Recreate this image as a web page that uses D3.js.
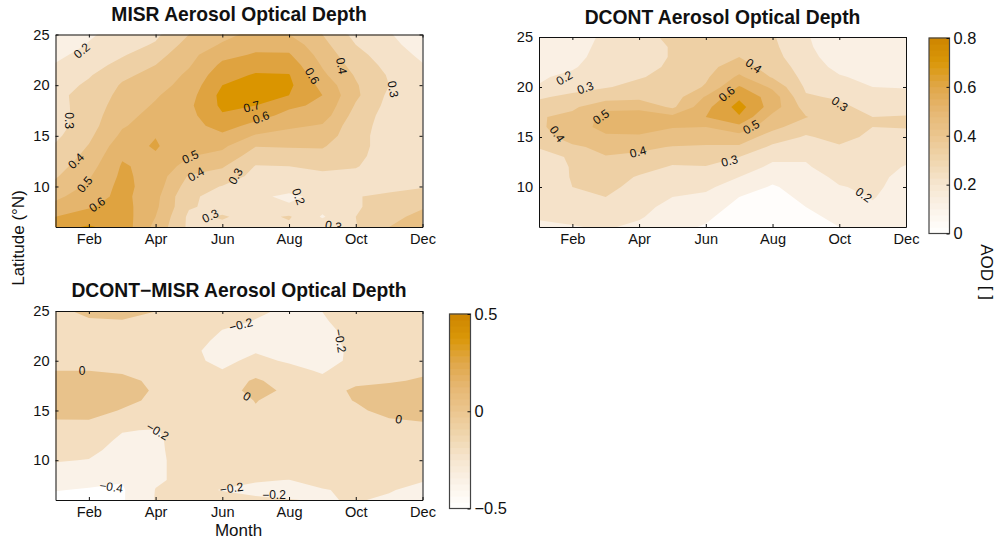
<!DOCTYPE html>
<html>
<head>
<meta charset="utf-8">
<script src="https://cdn.jsdelivr.net/npm/d3@7"></script>
<style>
  html, body { margin: 0; padding: 0; background: #fff; }
  svg { display: block; }
  text { font-family: "Liberation Sans", Arial, sans-serif; fill: #111; }
  .domain, .tick line { stroke: #111; }
  .title { font-weight: bold; font-size: 19.3px; text-anchor: middle; }
  .axis text { font-size: 14.6px; font-family: "Liberation Sans", Arial, sans-serif; }
  .bar-axis text { font-size: 16.4px; }
  .axis-title { font-size: 17px; text-anchor: middle; }
  .clabel { font-size: 12px; text-anchor: middle; dominant-baseline: central; }
</style>
</head>
<body>
<div id="chart"></div>
<script>
const lats = [25, 24, 23, 22, 21, 20, 19, 18, 17, 16, 15, 14, 13, 12, 11, 10, 9, 8, 7, 6];
const monthNames = ["Jan", "Feb", "Mar", "Apr", "May", "Jun", "Jul", "Aug", "Sep", "Oct", "Nov", "Dec"];
const monthTicks = [2, 4, 6, 8, 10, 12];
const latTicks = [10, 15, 20, 25];

// one row per month (Jan..Dec), values run from 25N down to 6N
const misrAod = [
  [.13,.15,.18,.205,.22,.25,.28,.27,.26,.26,.28,.31,.33,.36,.39,.43,.48,.53,.60,.67],
  [.19,.205,.23,.26,.29,.32,.33,.34,.35,.36,.38,.405,.43,.46,.49,.52,.55,.59,.65,.71],
  [.23,.26,.29,.33,.38,.41,.43,.45,.47,.49,.52,.56,.59,.61,.62,.63,.63,.64,.65,.66],
  [.28,.31,.36,.40,.43,.46,.49,.51,.53,.55,.597,.61,.59,.57,.56,.55,.53,.52,.50,.47],
  [.40,.44,.47,.49,.52,.54,.56,.58,.57,.56,.55,.53,.505,.46,.39,.35,.31,.31,.28,.28],
  [.47,.51,.57,.62,.66,.70,.73,.72,.69,.64,.58,.52,.47,.41,.36,.295,.28,.27,.308,.28],
  [.53,.57,.61,.66,.71,.74,.74,.70,.64,.57,.49,.405,.35,.295,.27,.26,.215,.23,.27,.26],
  [.50,.56,.61,.66,.705,.72,.70,.62,.57,.52,.46,.41,.35,.30,.27,.23,.185,.21,.31,.28],
  [.40,.43,.46,.49,.52,.57,.60,.58,.55,.49,.46,.41,.37,.32,.28,.25,.22,.23,.19,.27],
  [.27,.30,.33,.36,.39,.41,.42,.39,.36,.34,.33,.33,.32,.305,.28,.27,.295,.29,.30,.295],
  [.21,.23,.25,.27,.29,.30,.28,.27,.26,.26,.26,.26,.26,.26,.26,.27,.32,.34,.37,.40],
  [.12,.15,.18,.205,.23,.25,.25,.25,.25,.25,.25,.25,.25,.25,.26,.295,.33,.39,.43,.47]
];
const dcontAod = [
  [.13,.14,.15,.17,.19,.205,.29,.33,.39,.38,.35,.305,.27,.26,.25,.24,.23,.22,.205,.19],
  [.15,.16,.17,.19,.22,.27,.32,.38,.43,.47,.45,.38,.31,.305,.305,.30,.27,.24,.22,.195],
  [.22,.23,.24,.25,.27,.295,.35,.48,.53,.52,.49,.43,.395,.37,.35,.325,.30,.265,.24,.21],
  [.27,.27,.27,.28,.295,.32,.37,.48,.54,.53,.49,.42,.38,.34,.29,.27,.25,.23,.21,.18],
  [.32,.305,.305,.31,.32,.33,.35,.38,.53,.505,.46,.395,.34,.29,.26,.23,.20,.17,.15,.13],
  [.34,.35,.36,.37,.385,.41,.51,.57,.60,.50,.46,.385,.34,.295,.26,.22,.18,.15,.12,.09],
  [.35,.37,.40,.45,.52,.61,.68,.74,.69,.57,.46,.385,.30,.25,.20,.15,.10,.07,.04,.02],
  [.31,.32,.33,.35,.39,.48,.555,.55,.47,.43,.35,.28,.22,.18,.13,.09,.07,.05,.03,.02],
  [.21,.22,.24,.26,.27,.285,.31,.36,.405,.34,.29,.26,.21,.19,.16,.14,.12,.10,.08,.06],
  [.13,.13,.14,.17,.21,.25,.29,.32,.34,.36,.33,.29,.26,.245,.22,.195,.17,.14,.12,.10],
  [.11,.11,.12,.14,.17,.20,.24,.27,.30,.30,.28,.26,.24,.23,.22,.215,.205,.19,.18,.17],
  [.11,.105,.105,.12,.15,.195,.23,.27,.305,.305,.27,.25,.22,.195,.18,.17,.16,.15,.15,.14]
];
const diffAod = [
  [-.05,-.07,-.08,-.08,-.08,-.06,0,.07,.08,.07,.05,-.005,-.07,-.11,-.15,-.19,-.24,-.30,-.39,-.47],
  [.05,-.02,-.05,-.06,-.06,-.04,0,.08,.10,.09,.06,-.005,-.08,-.12,-.16,-.205,-.26,-.33,-.42,-.50],
  [.08,-.01,-.05,-.06,-.06,-.05,-.02,.04,.06,.04,-.01,-.08,-.19,-.23,-.26,-.29,-.33,-.39,-.42,-.42],
  [.002,-.03,-.06,-.07,-.08,-.07,-.06,-.03,-.015,-.03,-.06,-.12,-.21,-.22,-.22,-.22,-.22,-.22,-.195,-.19],
  [-.04,-.07,-.10,-.13,-.185,-.17,-.15,-.12,-.10,-.09,-.09,-.10,-.12,-.14,-.15,-.16,-.16,-.16,-.17,-.15],
  [-.09,-.16,-.205,-.24,-.225,-.23,-.195,-.12,-.07,-.07,-.09,-.11,-.13,-.14,-.15,-.15,-.16,-.17,-.205,-.15],
  [-.18,-.205,-.24,-.26,-.21,-.17,-.08,.03,.05,.005,-.01,-.07,-.10,-.12,-.14,-.15,-.16,-.19,-.23,-.18],
  [-.22,-.24,-.27,-.28,-.26,-.215,-.16,-.10,-.03,-.05,-.07,-.09,-.11,-.12,-.13,-.14,-.15,-.202,-.25,-.195],
  [-.198,-.22,-.29,-.30,-.29,-.27,-.215,-.17,-.10,-.08,-.08,-.09,-.10,-.11,-.12,-.13,-.13,-.15,-.21,-.21],
  [-.10,-.115,-.09,-.11,-.15,-.155,-.12,-.05,.04,.01,-.04,-.07,-.09,-.10,-.11,-.12,-.13,-.15,-.17,-.19],
  [-.09,-.09,-.08,-.07,-.06,-.06,-.05,-.02,.06,.09,.07,-.02,-.07,-.09,-.10,-.11,-.12,-.14,-.19,-.22],
  [-.08,-.08,-.07,-.06,-.06,-.05,-.03,.02,.08,.10,.09,.01,-.06,-.08,-.09,-.10,-.12,-.19,-.24,-.28]
];

const aodLevels = [.1, .2, .3, .4, .5, .6, .7];
const aodFills = ["#fffdfb", "#faf0e4", "#f5e2c9", "#eed0a5", "#e9c084", "#e5b56d", "#dfa340", "#da9500"];
const diffLevels = [-.4, -.2, 0, .2];
const diffFills = ["#ffffff", "#faf2e8", "#f4dec0", "#e8c28b", "#dfa340"];

// colour bar stops
const aodBarStops = [0, .1, .2, .3, .4, .5, .6, .7, .8];
const barColors = ["#ffffff", "#fbf3e9", "#f6e6d0", "#f0d6ae", "#ebc68f", "#e6b772", "#e0a749", "#da9708", "#cd8500"];
const diffBarStops = barColors.map((c, i) => -.5 + i / 8);

const misrLabels = [
  ["0.2", 1.79, 23.4, -40], ["0.3", 1.39, 16.5, 90], ["0.4", 1.62, 12.5, -45], ["0.5", 1.88, 10.2, -50],
  ["0.6", 2.25, 8.2, -35], ["0.3", 5.64, 7.07, -25], ["0.4", 5.21, 11.2, -30], ["0.5", 5.04, 12.9, -25],
  ["0.3", 6.40, 11.0, -60], ["0.2", 8.28, 9.0, 70], ["0.7", 6.88, 17.86, -15], ["0.6", 7.16, 16.8, -20],
  ["0.6", 8.69, 20.9, 60], ["0.4", 9.57, 21.9, 80], ["0.3", 11.11, 19.6, 80], ["0.3", 9.33, 6.1, 10]
];
const dcontLabels = [
  ["0.2", 1.76, 20.9, -30], ["0.3", 2.39, 19.9, -20], ["0.4", 1.54, 15.3, 55], ["0.5", 2.86, 17.0, -35],
  ["0.4", 3.97, 13.5, -15], ["0.3", 6.71, 12.6, -15], ["0.6", 6.63, 19.3, -40], ["0.4", 7.43, 22.1, 35],
  ["0.5", 7.36, 16.0, -30], ["0.3", 10.01, 18.3, 35], ["0.2", 10.73, 9.2, 35]
];
const diffLabels = [
  ["0", 1.8, 19.0, 0], ["\u22120.2", 4.06, 12.9, 30], ["\u22120.2", 6.56, 23.6, -15], ["\u22120.2", 9.53, 22.0, 80],
  ["0", 6.74, 16.4, 30], ["0", 11.29, 14.1, 10], ["\u22120.4", 2.67, 7.3, 8], ["\u22120.2", 6.28, 7.17, -8],
  ["\u22120.2", 7.55, 6.53, 0]
];

const svg = d3.select("#chart").append("svg").attr("width", 995).attr("height", 541);

function drawPanel(opts) {
  const x = d3.scaleLinear().domain([1, 12]).range([opts.left, opts.right]);
  const y = d3.scaleLinear().domain([6, 25]).range([opts.bottom, opts.top]);
  const color = d3.scaleThreshold().domain(opts.levels).range(opts.fills);

  // d3.contours wants a flat grid, row by row
  const grid = [];
  lats.forEach((lat, j) => opts.values.forEach(col => grid.push(col[j])));

  const contours = d3.contours().size([monthNames.length, lats.length]).thresholds(opts.levels)(grid);
  const gridPath = d3.geoPath(d3.geoTransform({
    point(px, py) { this.stream.point(x(px + 0.5), y(lats[0] - (py - 0.5))); }
  }));

  const g = svg.append("g");
  g.append("clipPath").attr("id", opts.id + "-clip").append("rect")
    .attr("x", opts.left).attr("y", opts.top)
    .attr("width", opts.right - opts.left).attr("height", opts.bottom - opts.top);

  const body = g.append("g").attr("clip-path", `url(#${opts.id}-clip)`);
  body.append("rect")
    .attr("x", opts.left).attr("y", opts.top)
    .attr("width", opts.right - opts.left).attr("height", opts.bottom - opts.top)
    .attr("fill", opts.fills[0]);
  body.selectAll("path").data(contours).enter().append("path")
    .attr("d", gridPath)
    .attr("fill", d => color(d.value));

  body.selectAll("text").data(opts.labels).enter().append("text")
    .attr("class", "clabel")
    .attr("transform", d => `translate(${x(d[1])},${y(d[2])}) rotate(${d[3]})`)
    .text(d => d[0]);

  const monthFormat = d => monthNames[d - 1];
  g.append("g").attr("class", "axis")
    .attr("transform", `translate(0,${opts.bottom})`)
    .call(d3.axisBottom(x).tickValues(monthTicks).tickFormat(monthFormat).tickSizeInner(-3).tickSizeOuter(0).tickPadding(7));
  g.append("g").attr("class", "axis")
    .attr("transform", `translate(0,${opts.top})`)
    .call(d3.axisTop(x).tickValues(monthTicks).tickFormat("").tickSizeInner(-3).tickSizeOuter(0));
  g.append("g").attr("class", "axis")
    .attr("transform", `translate(${opts.left},0)`)
    .call(d3.axisLeft(y).tickValues(latTicks).tickFormat(d3.format("d")).tickSizeInner(-3).tickSizeOuter(0).tickPadding(6));
  g.append("g").attr("class", "axis")
    .attr("transform", `translate(${opts.right},0)`)
    .call(d3.axisRight(y).tickValues(latTicks).tickFormat("").tickSizeInner(-3).tickSizeOuter(0));

  g.append("text").attr("class", "title")
    .attr("x", (opts.left + opts.right) / 2).attr("y", opts.titleY)
    .text(opts.title);
}

function drawBar(opts) {
  const y = d3.scaleLinear().domain(opts.domain).range([opts.bottom, opts.top]);
  const color = d3.scaleLinear().domain(opts.stops).range(barColors);
  const steps = d3.range(32).map(i => opts.domain[0] + (i / 32) * (opts.domain[1] - opts.domain[0]));
  const stepH = (opts.bottom - opts.top) / steps.length;

  const g = svg.append("g");
  g.selectAll("rect").data(steps).enter().append("rect")
    .attr("x", opts.left).attr("width", opts.right - opts.left)
    .attr("y", d => y(d) - stepH - 0.3).attr("height", stepH + 0.6)
    .attr("fill", d => color(d + (opts.domain[1] - opts.domain[0]) / 64));
  g.append("rect")
    .attr("x", opts.left).attr("y", opts.top)
    .attr("width", opts.right - opts.left).attr("height", opts.bottom - opts.top)
    .attr("fill", "none").attr("stroke", "#444").attr("stroke-width", 1.2);
  g.append("g").attr("class", "axis bar-axis")
    .attr("transform", `translate(${opts.right},0)`)
    .call(d3.axisRight(y).tickValues(opts.ticks).tickFormat(opts.format).tickSizeInner(-3).tickSizeOuter(0).tickPadding(4))
    .select(".domain").remove();
}

drawPanel({
  id: "misr", title: "MISR Aerosol Optical Depth", values: misrAod, labels: misrLabels,
  levels: aodLevels, fills: aodFills, left: 55.5, right: 422.5, top: 34.5, bottom: 227, titleY: 21
});
drawPanel({
  id: "dcont", title: "DCONT Aerosol Optical Depth", values: dcontAod, labels: dcontLabels,
  levels: aodLevels, fills: aodFills, left: 539, right: 906, top: 37, bottom: 227, titleY: 24
});
drawPanel({
  id: "diff", title: "DCONT\u2212MISR Aerosol Optical Depth", values: diffAod, labels: diffLabels,
  levels: diffLevels, fills: diffFills, left: 55.5, right: 422.5, top: 311, bottom: 500, titleY: 297
});

drawBar({
  domain: [0, .8], stops: aodBarStops, ticks: [0, .2, .4, .6, .8], format: d => d === 0 ? "0" : d3.format(".1f")(d),
  left: 929, right: 949.5, top: 38, bottom: 233.5
});
drawBar({
  domain: [-.5, .5], stops: diffBarStops, ticks: [-.5, 0, .5], format: d => d === 0 ? "0" : d3.format(".1f")(d).replace("-", "\u2212"),
  left: 449.5, right: 470.5, top: 314, bottom: 508.5
});

svg.append("text").attr("class", "axis-title").attr("x", 238.5).attr("y", 536).text("Month");
svg.append("text").attr("class", "axis-title")
  .attr("transform", "translate(24,238) rotate(-90)").text("Latitude (\u00b0N)");
svg.append("text").attr("class", "axis-title")
  .attr("transform", "translate(981,272) rotate(90)").text("AOD [ ]");
</script>
</body>
</html>
